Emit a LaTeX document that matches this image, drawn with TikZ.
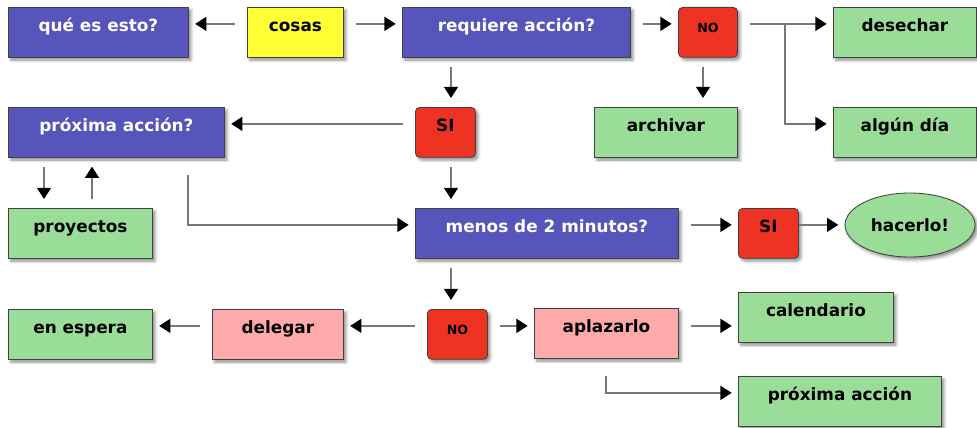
\documentclass[tikz,border=0pt]{standalone}
\usepackage{fontspec}
\setmainfont{DejaVu Sans}
\usetikzlibrary{arrows.meta,shapes.geometric,shadows.blur}
\newlength\pxl
\setlength\pxl{0.025cm}
\definecolor{boxblue}{RGB}{85,85,187}
\definecolor{boxyellow}{RGB}{255,255,51}
\definecolor{boxred}{RGB}{238,51,34}
\definecolor{boxgreen}{RGB}{153,221,153}
\definecolor{boxpink}{RGB}{255,170,170}
\definecolor{linegray}{RGB}{120,120,120}
\tikzset{
>={Triangle[length=8pt,width=10pt,color=black]},
  soft/.style={blur shadow={shadow xshift=1.8pt, shadow yshift=-2pt,
      shadow blur radius=2.2pt, shadow opacity=45}},
  box/.style={
    rectangle,
    draw=black!75, line width=0.6pt,
    anchor=north west,
    inner xsep=0pt, inner ysep=0pt,
    text height=17.3pt, text depth=18.1pt,
    font=\fontsize{12}{14}\selectfont\bfseries,
    soft},
  question/.style={box, fill=boxblue, text=white},
  input/.style={box, fill=boxyellow},
  answer/.style={box, fill=boxred, rounded corners=3pt,
    minimum width=60\pxl},
  small/.style={font=\fontsize{9}{11}\selectfont\bfseries,
    text height=17.5pt, text depth=17.9pt},
  result/.style={box, fill=boxgreen},
  task/.style={box, fill=boxpink},
  done/.style={
    ellipse, fill=boxgreen, draw=black!75, line width=0.6pt,
    inner sep=0pt, minimum width=130\pxl, minimum height=64\pxl,
    font=\fontsize{12}{14}\selectfont\bfseries,
    soft},
  line/.style={draw=linegray, line width=1pt, ->,
    shorten <=8.5pt, shorten >=4.5pt},
  vline/.style={line, shorten <=6.4pt, shorten >=6.4pt},
}
\begin{document}
\begin{tikzpicture}[x=0.025cm, y=-0.025cm]
\useasboundingbox (0,0) rectangle (977,427);
% first row
\node[question, minimum width=180\pxl] (que) at (8,7) {qué es esto?};
\node[input, minimum width=96\pxl] (cosas) at (247,7) {cosas};
\node[question, minimum width=228\pxl] (requiere) at (402,7) {requiere acción?};
\node[answer, small, minimum width=59\pxl] (no1) at (678,7) {NO};
\node[result, minimum width=143\pxl] (desechar) at (833,7) {desechar};
% second row
\node[question, minimum width=216\pxl] (proxq) at (8,107) {próxima acción?};
\node[answer] (si1) at (415,107) {SI};
\node[result, minimum width=143\pxl] (archivar) at (594,107) {archivar};
\node[result, minimum width=143\pxl] (algun) at (833,107) {algún día};
% third row
\node[result, minimum width=144\pxl] (proyectos) at (8,208) {proyectos};
\node[question, minimum width=263\pxl] (menos) at (415,208) {menos de 2 minutos?};
\node[answer] (si2) at (738,208) {SI};
\node[done] (hacer) at (910,225) {hacerlo!};
% fourth row
\node[result, minimum width=144\pxl] (enesp) at (8,309) {en espera};
\node[task, minimum width=131\pxl] (delegar) at (212,309) {delegar};
\node[answer, small] (no2) at (427,309) {NO};
\node[task, minimum width=144\pxl] (aplaz) at (534,308) {aplazarlo};
\node[result, minimum width=155\pxl] (calend) at (738,292) {calendario};
\node[result, minimum width=203\pxl] (proxa) at (738,376) {próxima acción};

\coordinate (colsi) at (451,0);
\coordinate (colno) at (703,0);
\coordinate (dn) at (44,0);
\coordinate (up) at (92,0);
\coordinate (split) at (785,0);
\coordinate (pbend) at (188,175);
\coordinate (abend) at (606,376);

% arrows run 12pt below the top edge of their boxes
\draw[line] ([yshift=-12pt]cosas.north west) -- ([yshift=-12pt]cosas.north west -| que.east);
\draw[line] ([yshift=-12pt]cosas.north east) -- ([yshift=-12pt]cosas.north east -| requiere.west);
\draw[line] ([yshift=-12pt]requiere.north east) -- ([yshift=-12pt]requiere.north east -| no1.west);
\draw[line] ([yshift=-12pt]no1.north east) -- ([yshift=-12pt]no1.north east -| desechar.west);
\draw[line, shorten <=0pt] ([yshift=-12pt]desechar.north west -| split) |- ([yshift=-12pt]algun.north west);
\draw[vline] (requiere.south -| colsi) -- (si1.north -| colsi);
\draw[vline] (no1.south -| colno) -- (archivar.north -| colno);
\draw[line] ([yshift=-12pt]si1.north west) -- ([yshift=-12pt]si1.north west -| proxq.east);
\draw[vline] (si1.south -| colsi) -- (menos.north -| colsi);
\draw[vline] (proxq.south -| dn) -- (proyectos.north -| dn);
\draw[vline] (proyectos.north -| up) -- (proxq.south -| up);
\draw[line, shorten <=0pt] (pbend) |- ([yshift=-12pt]menos.north west);
\draw[line] ([yshift=-12pt]menos.north east) -- ([yshift=-12pt]menos.north east -| si2.west);
\draw[line, shorten <=0pt] ([yshift=-12pt]si2.north east) -- ([yshift=-12pt]si2.north east -| hacer.west);
\draw[vline] (menos.south -| colsi) -- (no2.north -| colsi);
\draw[line] ([yshift=-12pt]no2.north west) -- ([yshift=-12pt]no2.north west -| delegar.east);
\draw[line] ([yshift=-12pt]delegar.north west) -- ([yshift=-12pt]delegar.north west -| enesp.east);
\draw[line] ([yshift=-12pt]no2.north east) -- ([yshift=-12pt]no2.north east -| aplaz.west);
\draw[line] ([yshift=-12pt]no2.north east -| aplaz.east) -- ([yshift=-12pt]no2.north east -| calend.west);
\draw[line, shorten <=0pt] (abend) |- ([yshift=-12pt]proxa.north west);
\end{tikzpicture}
\end{document}
